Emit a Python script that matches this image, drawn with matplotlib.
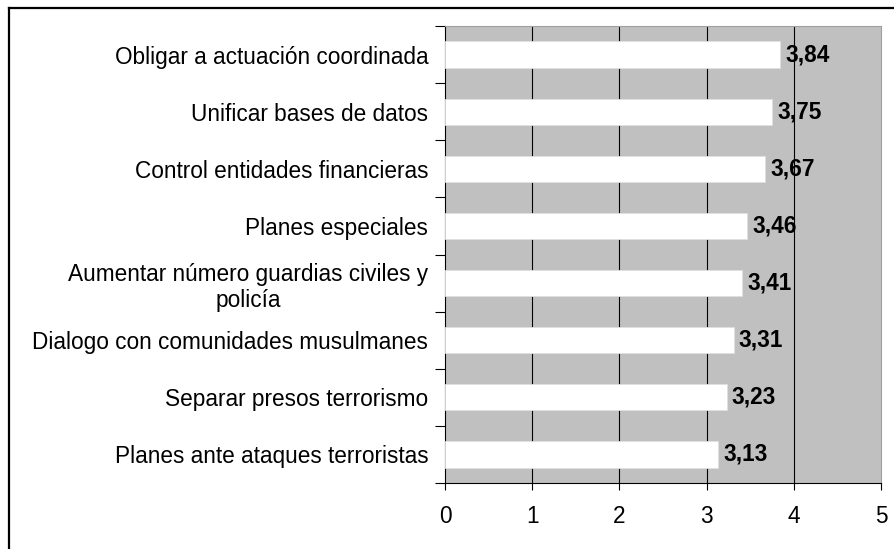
import matplotlib
matplotlib.use("Agg")
import matplotlib.pyplot as plt
from matplotlib.lines import Line2D

#categories listed from top to bottom, as in the picture
categories = ["Obligar a actuación coordinada",
              "Unificar bases de datos",
              "Control entidades financieras",
              "Planes especiales",
              "Aumentar número guardias civiles y\npolicía",
              "Dialogo con comunidades musulmanes",
              "Separar presos terrorismo",
              "Planes ante ataques terroristas"]
values = [3.84, 3.75, 3.67, 3.46, 3.41, 3.31, 3.23, 3.13]
xticks = [0, 1, 2, 3, 4, 5]

plt.rcParams["font.family"] = ["Liberation Sans", "DejaVu Sans"]
fs = 16.3

fig = plt.figure(figsize=(8.94, 5.49), dpi=100)
ax = fig.add_axes([445/894, 1 - 483/549, (881 - 445)/894, (483 - 26)/549])
ax.set_facecolor("#c0c0c0")

n = len(categories)
ypos = [n - 1 - i for i in range(n)]
ax.barh(ypos, values, height=0.46, color="white", edgecolor="#e0e0e0",
        linewidth=0.6, zorder=3)
for x in xticks[1:-1]:
    ax.axvline(x, color="black", linewidth=0.8, zorder=2)
for y, v in zip(ypos, values):
    ax.text(v + 0.06, y, ("%.2f" % v).replace(".", ","), ha="left",
            va="center", fontweight="bold", fontsize=fs, zorder=1)

ax.set_xlim(0, 5)
ax.set_ylim(-0.5, n - 0.5)
ax.set_xticks(xticks)
ax.set_xticklabels([str(t) for t in xticks], fontsize=fs)
ax.set_yticks([y - 0.5 for y in range(n + 1)])
ax.set_yticklabels([])
ax.set_yticks(ypos, minor=True)
ax.set_yticklabels(categories, minor=True, fontsize=fs, multialignment="center")
ax.tick_params(axis="y", which="minor", length=0, pad=12)
ax.tick_params(axis="y", which="major", length=7, width=0.8, direction="out")
ax.tick_params(axis="x", length=5, width=0.8, direction="out", pad=11)

ax.spines["left"].set_color("black")
ax.spines["bottom"].set_color("black")
ax.spines["top"].set_color("#a0a0a0")
ax.spines["right"].set_color("#a0a0a0")

#outer frame, cut off on right and bottom like the original
fig.add_artist(Line2D([8.5/894, 8.5/894], [0, 1 - 7.5/549], color="black",
                      linewidth=1.6, transform=fig.transFigure))
fig.add_artist(Line2D([8.5/894, 1], [1 - 7.5/549, 1 - 7.5/549], color="black",
                      linewidth=1.6, transform=fig.transFigure))

fig.savefig("out.png", dpi=100)
